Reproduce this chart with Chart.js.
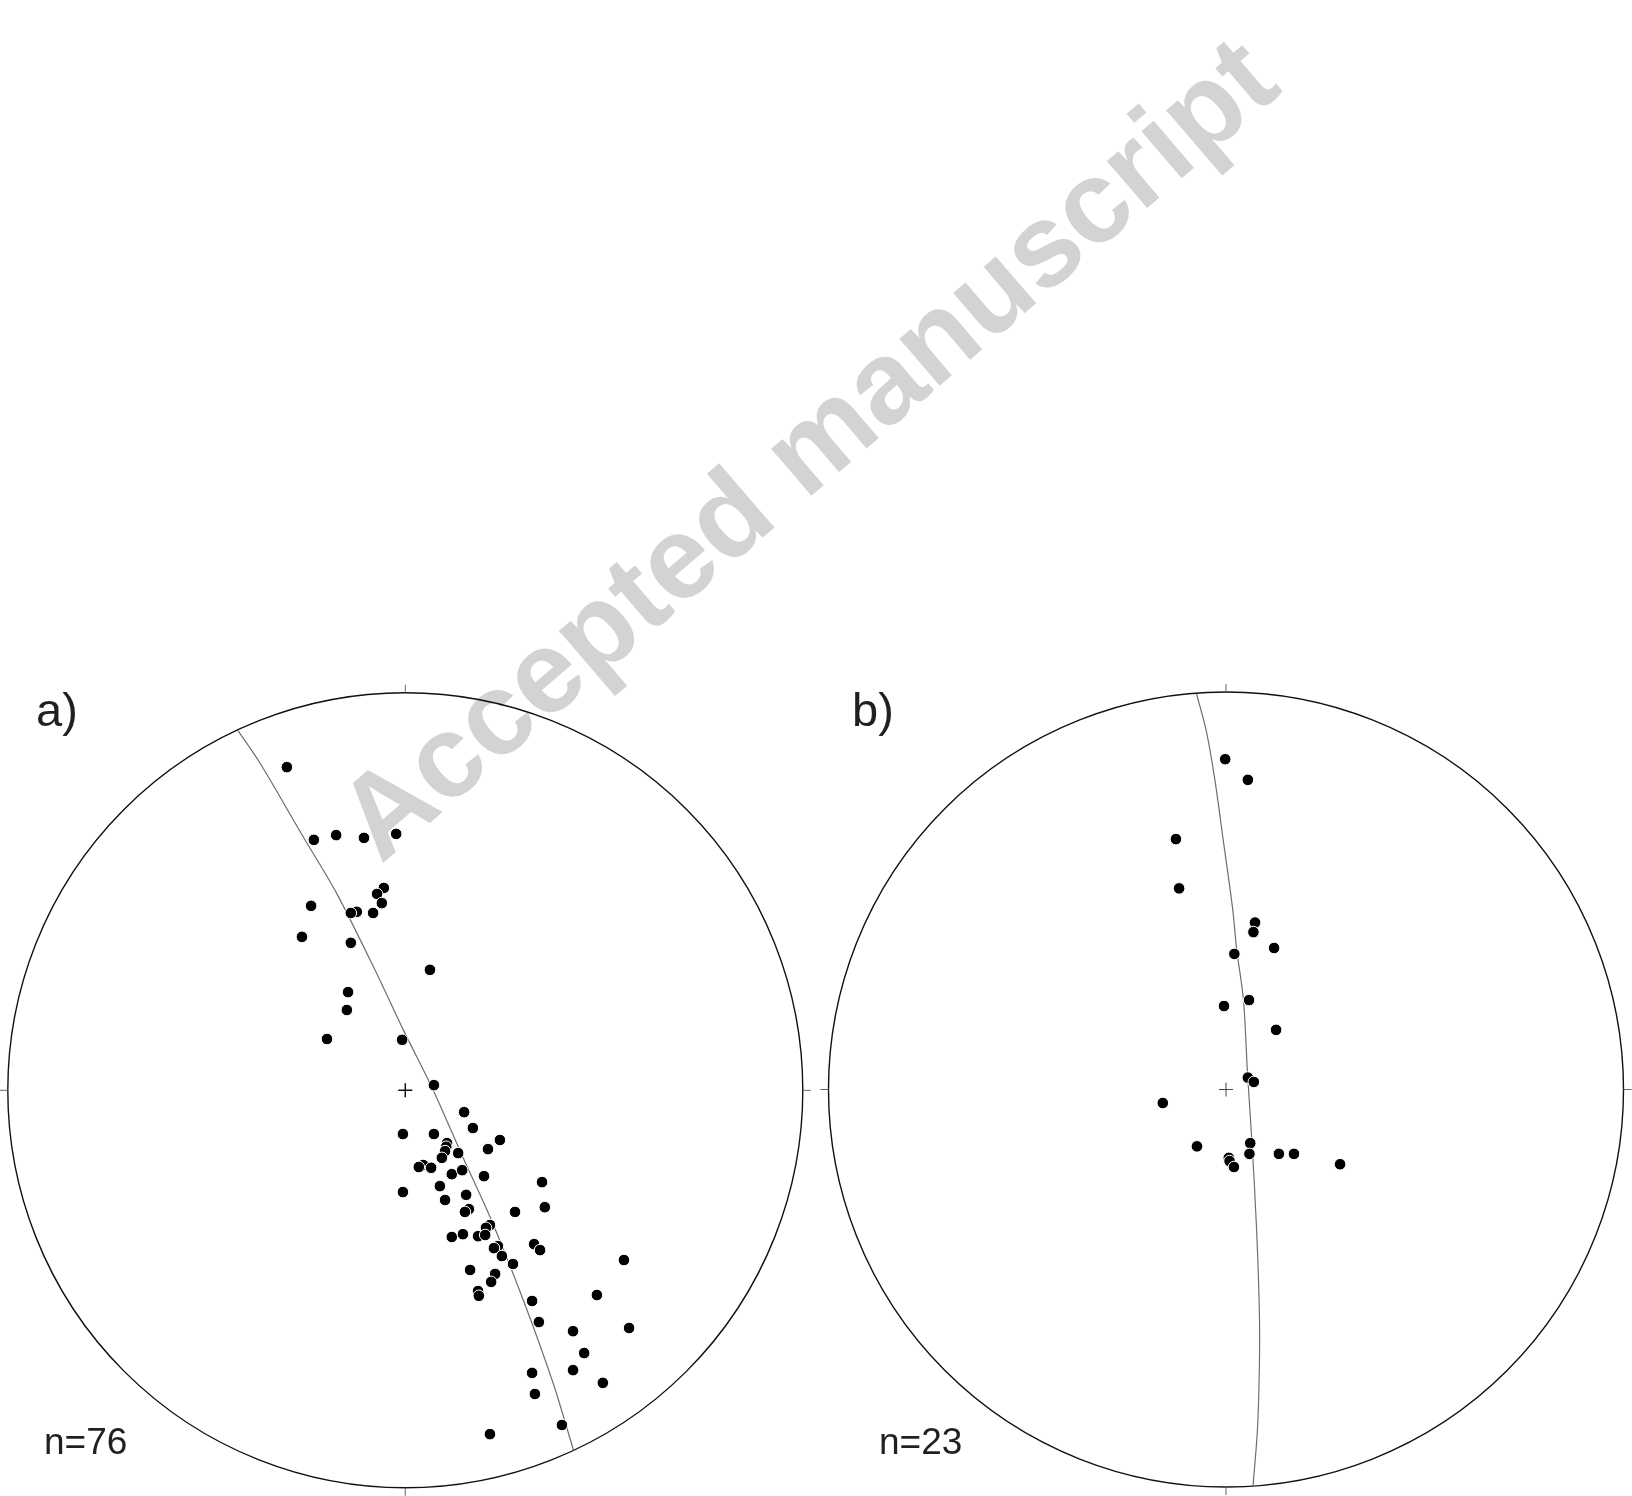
<!DOCTYPE html>
<html>
<head>
<meta charset="utf-8">
<script src="https://cdn.jsdelivr.net/npm/chart.js@4/dist/chart.umd.min.js"></script>
<style>
html, body { margin: 0; padding: 0; background: #fff; overflow: hidden; }
#wrap { position: relative; width: 1632px; height: 1496px; }
#wrap canvas { position: absolute; left: 0; top: 0; }
#watermark {
    position: absolute; left: 806px; top: 447px;
    transform: translate(-50%, -50%) rotate(-40.6deg);
    font: bold 117px "Liberation Sans", Arial, sans-serif;
    line-height: 1; color: #d3d3d3; white-space: nowrap;
}
</style>
</head>
<body>
<div id="wrap">
    <div id="watermark">Accepted manuscript</div>
    <canvas id="netA" width="1632" height="1496"></canvas>
    <canvas id="netB" width="1632" height="1496"></canvas>
</div>
<script>
// coordinates in % of the net radius: east (+x) and north (+y)
const eastA = [-29.8, -23.0, -17.4, -10.4, -2.3, -5.4, -7.1, -5.9, -23.7, -12.2, -13.7, -8.1, -26.0, -13.7, 6.2,
    -14.4, -14.7, -19.7, -0.8, 7.2, 14.8, 17.0, -0.6, 7.2, 10.5, 10.3, 10.0, 9.2, 13.3, 23.8, 20.8, 4.5, 3.4, 6.5,
    11.7, 14.3, 19.8, 34.4, -0.6, 8.7, 15.3, 10.0, 16.0, 15.0, 35.1, 27.6, 21.3, 20.3, 18.3, 20.1, 11.7, 14.5,
    23.3, 22.3, 24.3, 32.4, 33.9, 27.1, 55.0, 16.3, 22.6, 21.6, 18.3, 18.5, 48.2, 31.9, 33.6, 42.2, 56.3, 45.0,
    31.9, 42.2, 49.7, 32.6, 39.4, 21.3];
const northA = [81.3, 63.0, 64.2, 63.5, 64.5, 50.9, 49.4, 47.1, 46.4, 44.9, 44.6, 44.6, 38.6, 37.1, 30.3,
    24.7, 20.2, 12.9, 12.7, 1.3, -5.5, -9.5, -11.0, -11.0, -13.3, -14.2, -15.3, -17.0, -15.8, -12.5, -14.8, -18.8, -19.3, -19.5,
    -21.1, -20.1, -21.6, -23.1, -25.6, -24.1, -26.3, -27.6, -29.9, -30.6, -29.4, -30.6, -33.9, -34.6, -36.7, -36.4, -36.9, -36.2,
    -39.2, -39.7, -41.7, -38.7, -40.2, -43.7, -42.7, -45.2, -46.2, -48.2, -50.5, -51.7, -51.5, -53.0, -58.3, -60.6, -59.8, -66.1,
    -71.1, -70.4, -73.6, -76.4, -84.2, -86.5];
const girdleEastA = [-42.1, -36.6, -25.7, -17.3, -7.2, -0.5, 7.0, 14.6, 21.3, 29.7, 37.2, 42.3];
const girdleNorthA = [90.5, 82.4, 63.8, 49.6, 29.4, 15.2, 0.1, -17.1, -31.8, -52.8, -73.7, -90.5];

const eastB = [-0.2, 5.5, -12.6, -11.8, 7.3, 6.9, 2.1, 12.1, 5.8, -0.5, 12.6, 5.5, 7.0, -15.9, -7.3, 6.1, 5.9,
    13.3, 17.1, 28.7, 0.7, 0.9, 2.0];
const northB = [83.1, 77.9, 63.0, 50.6, 42.0, 39.6, 34.1, 35.6, 22.5, 21.0, 15.0, 3.0, 1.9, -3.4, -14.3, -13.5, -16.2,
    -16.2, -16.2, -18.8, -17.2, -18.0, -19.5];
const girdleEastB = [-7.4, -5.0, -2.8, -0.7, 1.7, 2.7, 4.4, 5.4, 6.6, 7.7, 8.4, 8.4, 7.9, 6.8];
const girdleNorthB = [99.5, 90.4, 77.9, 62.8, 45.2, 35.1, 22.5, 4.2, -14.4, -35.3, -56.2, -69.7, -85.7, -99.7];

const panelLabels = ['a)', 'b)'];
const countLabels = ['n=76', 'n=23'];

function toPoints(xs, ys) {
    return xs.map((v, i) => ({ x: v, y: ys[i] }));
}

// primitive circle, N/E/S/W ticks, centre cross and the panel texts
const stereoFrame = {
    id: 'stereoFrame',
    beforeDatasetsDraw(chart, args, opts) {
        const ctx = chart.ctx;
        const xs = chart.scales.x, ys = chart.scales.y;
        const cx = xs.getPixelForValue(0), cy = ys.getPixelForValue(0);
        const r = xs.getPixelForValue(100) - cx;
        ctx.save();
        ctx.strokeStyle = '#111';
        ctx.lineWidth = 1.4;
        ctx.beginPath();
        ctx.arc(cx, cy, r, 0, Math.PI * 2);
        ctx.stroke();

        ctx.strokeStyle = '#666';
        ctx.lineWidth = 1;
        ctx.beginPath();
        ctx.moveTo(cx, cy - r); ctx.lineTo(cx, cy - r - 8);
        ctx.moveTo(cx, cy + r); ctx.lineTo(cx, cy + r + 8);
        ctx.moveTo(cx - r, cy); ctx.lineTo(cx - r - 8, cy);
        ctx.moveTo(cx + r, cy); ctx.lineTo(cx + r + 8, cy);
        ctx.stroke();

        ctx.strokeStyle = opts.crossColor;
        ctx.lineWidth = opts.crossWidth;
        ctx.beginPath();
        ctx.moveTo(cx - 7, cy); ctx.lineTo(cx + 7, cy);
        ctx.moveTo(cx, cy - 7); ctx.lineTo(cx, cy + 7);
        ctx.stroke();
        ctx.restore();
    },
    afterDraw(chart, args, opts) {
        const ctx = chart.ctx;
        ctx.save();
        ctx.fillStyle = '#231f20';
        ctx.textBaseline = 'alphabetic';
        ctx.font = '47px "Liberation Sans", Arial, sans-serif';
        ctx.fillText(opts.label, opts.labelX, 726);
        ctx.font = '37px "Liberation Sans", Arial, sans-serif';
        ctx.fillText(opts.count, opts.countX, 1454);
        ctx.restore();
    }
};

function makeNet(id, east, north, gEast, gNorth, pad, frame) {
    return new Chart(document.getElementById(id), {
        type: 'scatter',
        data: {
            datasets: [{
                data: toPoints(east, north),
                backgroundColor: '#000',
                borderColor: '#fff',
                borderWidth: 1,
                pointRadius: 5.8,
                order: 1
            }, {
                data: toPoints(gEast, gNorth),
                showLine: true,
                borderColor: '#6e6e6e',
                borderWidth: 1.2,
                pointRadius: 0,
                tension: 0.3,
                order: 2
            }]
        },
        options: {
            responsive: false,
            animation: false,
            layout: { padding: pad },
            scales: {
                x: { type: 'linear', min: -100, max: 100, display: false },
                y: { type: 'linear', min: -100, max: 100, display: false }
            },
            plugins: {
                legend: { display: false },
                tooltip: { enabled: false },
                stereoFrame: frame
            }
        },
        plugins: [stereoFrame]
    });
}

makeNet('netA', eastA, northA, girdleEastA, girdleNorthA,
    { left: 7.8, right: 829.2, top: 692.8, bottom: 8.2 },
    { label: panelLabels[0], labelX: 36, count: countLabels[0], countX: 44, crossColor: '#111', crossWidth: 1.5 });

makeNet('netB', eastB, northB, girdleEastB, girdleNorthB,
    { left: 828.5, right: 8.5, top: 692, bottom: 9 },
    { label: panelLabels[1], labelX: 852, count: countLabels[1], countX: 879, crossColor: '#444', crossWidth: 1 });
</script>
</body>
</html>
